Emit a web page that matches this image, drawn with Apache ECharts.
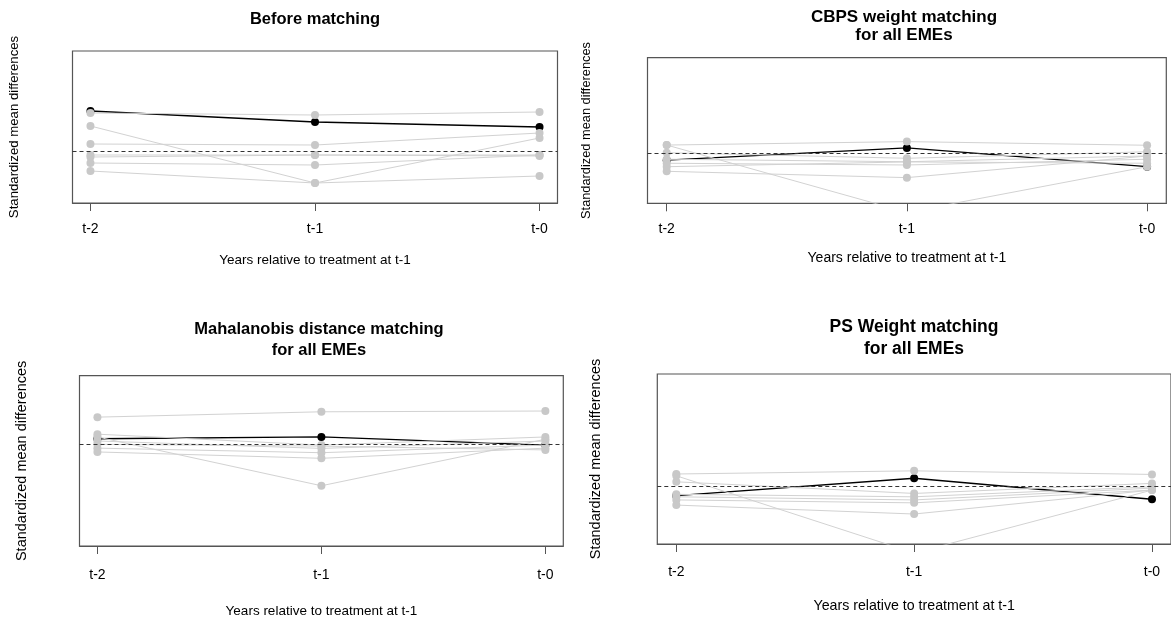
<!DOCTYPE html>
<html><head><meta charset="utf-8">
<script src="https://cdn.jsdelivr.net/npm/echarts@6/dist/echarts.min.js"></script>
<style>html,body{margin:0;padding:0;background:#fff}#c{width:1171px;height:620px}</style>
</head><body><div id="c"></div>
<script>
// ---------- data ----------
const categories = ['t-2', 't-1', 't-0'];
const xPositions = [1, 2, 3];
const panelTitles = ['Before matching', 'CBPS weight matching\nfor all EMEs', 'Mahalanobis distance matching\nfor all EMEs', 'PS Weight matching\nfor all EMEs'];
const xAxisName = 'Years relative to treatment at t-1';
const yAxisName = 'Standardized mean differences';

// Panel 1: before matching
const beforeTarget = [0.20, 0.145, 0.12];
const beforeCovariates = [
  [0.19, 0.18, 0.195],
  [0.125, -0.16, 0.065],
  [-0.10, -0.16, -0.125],
  [0.035, 0.03, 0.09],
  [-0.03, -0.02, -0.02],
  [-0.06, -0.07, -0.02],
  [-0.02, -0.02, -0.025]
];
// Panel 2: CBPS weight matching
const cbpsTarget = [-0.035, 0.029, -0.069];
const cbpsCovariates = [
  [0.044, 0.062, 0.043],
  [0.044, -0.307, -0.069],
  [0.004, -0.025, 0.009],
  [-0.030, -0.043, -0.013],
  [-0.051, -0.060, -0.030],
  [-0.069, -0.044, -0.051],
  [-0.093, -0.126, -0.013]
];
// Panel 3: Mahalanobis distance matching
const mahalTarget = [0.022, 0.029, -0.003];
const mahalCovariates = [
  [0.107, 0.128, 0.131],
  [0.029, -0.163, 0.020],
  [0.040, -0.003, 0.029],
  [0.013, -0.016, 0.013],
  [-0.015, -0.033, -0.003],
  [-0.030, -0.055, -0.015],
  [0.000, -0.007, -0.022]
];
// Panel 4: PS weight matching
const psTarget = [-0.044, 0.034, -0.060];
const psCovariates = [
  [0.053, 0.067, 0.051],
  [0.045, -0.300, -0.019],
  [0.018, -0.034, 0.011],
  [-0.038, -0.049, -0.004],
  [-0.049, -0.063, -0.010],
  [-0.063, -0.076, -0.019],
  [-0.086, -0.126, -0.019]
];
const yRanges = [[-0.26, 0.5], [-0.26, 0.5], [-0.4, 0.27], [-0.26, 0.5]];

// ---------- layout / style ----------
const FONT = "'Liberation Sans', Arial, sans-serif";
const layout = [
  {left: 72.5, top: 51, width: 485, height: 152, titleX: 315, titleTop: 9, titleSize: 16.5, titleLH: 20, tickSize: 14, tickMargin: 19, xNameSize: 13.5, xNameGap: 50, yNameSize: 13.2, yNameGap: 52},
  {left: 647.5, top: 57.7, width: 518.8, height: 145.6, titleX: 904, titleTop: 8, titleSize: 17, titleLH: 18.5, tickSize: 14, tickMargin: 18.5, xNameSize: 14, xNameGap: 48, yNameSize: 12.8, yNameGap: 55},
  {left: 79.5, top: 375.7, width: 483.8, height: 170.3, titleX: 319, titleTop: 318.5, titleSize: 16.5, titleLH: 21, tickSize: 14, tickMargin: 22, xNameSize: 13.5, xNameGap: 58, yNameSize: 14.5, yNameGap: 50},
  {left: 657.3, top: 374, width: 518.8, height: 170, titleX: 914, titleTop: 317, titleSize: 17.5, titleLH: 21.3, tickSize: 14, tickMargin: 21, xNameSize: 14.2, xNameGap: 55.5, yNameSize: 14.5, yNameGap: 54}
];
const panelData = [
  [beforeTarget, beforeCovariates],
  [cbpsTarget, cbpsCovariates],
  [mahalTarget, mahalCovariates],
  [psTarget, psCovariates]
];

const toPoints = vals => vals.map((v, i) => [xPositions[i], v]);

const option = {
  animation: false,
  backgroundColor: '#fff',
  title: [], grid: [], xAxis: [], yAxis: [], series: []
};

layout.forEach((L, p) => {
  option.title.push({
    text: panelTitles[p], left: L.titleX, top: L.titleTop, textAlign: 'center', padding: 0,
    textStyle: {fontFamily: FONT, fontWeight: 'bold', fontSize: L.titleSize, lineHeight: L.titleLH, color: '#000'}
  });
  option.grid.push({
    left: L.left, top: L.top, width: L.width, height: L.height,
    show: true, borderColor: '#555', borderWidth: 1.2, backgroundColor: 'transparent', containLabel: false
  });
  option.xAxis.push({
    type: 'value', gridIndex: p, min: 0.92, max: 3.08,
    name: xAxisName, nameLocation: 'middle', nameGap: L.xNameGap,
    nameTextStyle: {fontFamily: FONT, fontSize: L.xNameSize, color: '#000'},
    axisLine: {show: true, onZero: false, lineStyle: {color: '#555', width: 1.2}},
    splitLine: {show: false},
    axisTick: {show: true, customValues: xPositions, length: 8, inside: false, lineStyle: {color: '#555', width: 1}},
    axisLabel: {show: true, customValues: xPositions, margin: L.tickMargin, fontFamily: FONT, fontSize: L.tickSize, color: '#000',
      formatter: v => categories[xPositions.indexOf(Math.round(v))] || ''}
  });
  option.yAxis.push({
    type: 'value', gridIndex: p, min: yRanges[p][0], max: yRanges[p][1],
    name: yAxisName, nameLocation: 'middle', nameGap: L.yNameGap,
    nameTextStyle: {fontFamily: FONT, fontSize: L.yNameSize, color: '#000'},
    axisLine: {show: false}, axisTick: {show: false}, axisLabel: {show: false}, splitLine: {show: false}
  });
  const [target, covs] = panelData[p];
  option.series.push({
    type: 'line', xAxisIndex: p, yAxisIndex: p, data: toPoints(target), z: 2,
    symbol: 'circle', symbolSize: 8, showAllSymbol: true, clip: true,
    itemStyle: {color: '#000'}, lineStyle: {color: '#000', width: 1.3},
    markLine: {silent: true, symbol: 'none', label: {show: false}, z: 5,
      lineStyle: {color: '#333', type: [4, 3], width: 1}, data: [{yAxis: 0}]}
  });
  covs.forEach(c => {
    option.series.push({
      type: 'line', xAxisIndex: p, yAxisIndex: p, data: toPoints(c), z: 3,
      symbol: 'circle', symbolSize: 8, showAllSymbol: true, clip: true,
      itemStyle: {color: '#c8c8c8'}, lineStyle: {color: '#d2d2d2', width: 1}
    });
  });
});

const chart = echarts.init(document.getElementById('c'), null, {renderer: 'canvas'});
chart.setOption(option);
</script>
</body></html>
